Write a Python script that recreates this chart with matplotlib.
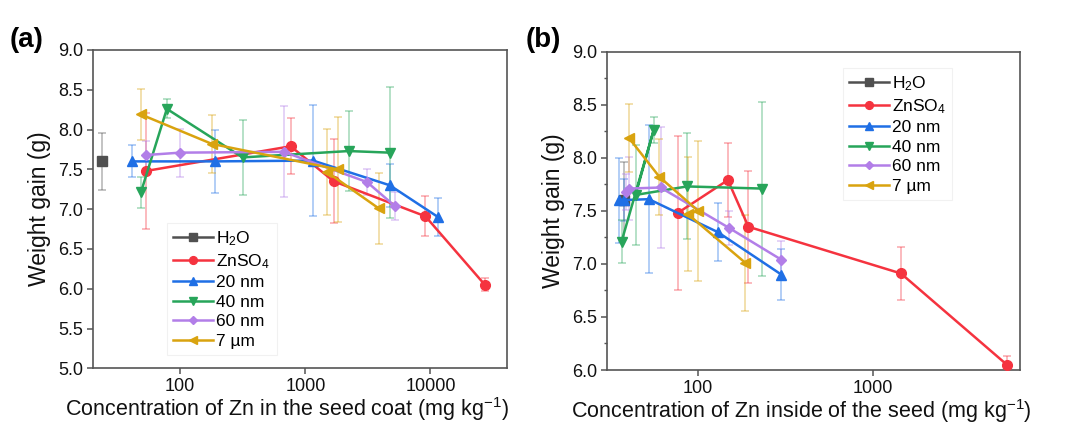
import matplotlib
matplotlib.use('Agg')
import matplotlib.pyplot as plt
from matplotlib.ticker import FixedLocator, NullLocator, MultipleLocator, FixedFormatter

plt.rcParams['font.family'] = ['Liberation Sans', 'DejaVu Sans']
plt.rcParams['mathtext.fontset'] = 'custom'
plt.rcParams['mathtext.rm'] = 'Liberation Sans'
plt.rcParams['mathtext.it'] = 'Liberation Sans'

# series: x in seed coat (a), x inside the seed (b), weight gain, error
names = ['H$_2$O', 'ZnSO$_4$', '20 nm', '40 nm', '60 nm', '7 µm']
colors = ['#505050', '#f5333f', '#1f6fe5', '#27a55a', '#b27ee8', '#d9a30f']
markers = ['s', 'o', '^', 'v', 'D', '<']

h2o_coat = [23.5]
h2o_in = [37.5]
h2o_y = [7.60]
h2o_e = [0.36]

znso4_coat = [53.5, 763, 1685, 9120, 27200]
znso4_in = [76.5, 148, 194, 1446, 5835]
znso4_y = [7.48, 7.79, 7.35, 6.91, 6.05]
znso4_e = [0.73, 0.35, 0.53, 0.25, 0.08]

nm20_coat = [41.5, 188, 1153, 4730, 11520]
nm20_in = [37.5, 35.5, 52.3, 129.5, 299]
nm20_y = [7.60, 7.60, 7.61, 7.30, 6.90]
nm20_e = [0.20, 0.40, 0.70, 0.27, 0.24]

nm40_coat = [48.5, 78.2, 315, 2220, 4730]
nm40_in = [36.5, 55.7, 43.9, 86.5, 232]
nm40_y = [7.21, 8.26, 7.65, 7.73, 7.71]
nm40_e = [0.20, 0.12, 0.47, 0.50, 0.82]

nm60_coat = [53.5, 100, 671, 3115, 5185]
nm60_in = [38.5, 40.5, 61, 150, 299]
nm60_y = [7.68, 7.71, 7.72, 7.34, 7.04]
nm60_e = [0.17, 0.30, 0.57, 0.16, 0.18]

um7_coat = [48.5, 179, 1815, 1480, 3860]
um7_in = [40.1, 60.1, 100, 87.2, 186.4]
um7_y = [8.19, 7.82, 7.50, 7.47, 7.01]
um7_e = [0.32, 0.36, 0.66, 0.54, 0.45]

x_coat = [h2o_coat, znso4_coat, nm20_coat, nm40_coat, nm60_coat, um7_coat]
x_in = [h2o_in, znso4_in, nm20_in, nm40_in, nm60_in, um7_in]
ys = [h2o_y, znso4_y, nm20_y, nm40_y, nm60_y, um7_y]
errs = [h2o_e, znso4_e, nm20_e, nm40_e, nm60_e, um7_e]

fig = plt.figure(figsize=(10.81, 4.25), dpi=100)
ax_a = fig.add_axes([0.0858, 0.1334, 0.3833, 0.749])
ax_b = fig.add_axes([0.5612, 0.1294, 0.3825, 0.749])


def draw(ax, xs):
    lines = []
    for i in range(len(names)):
        ax.errorbar(xs[i], ys[i], yerr=errs[i], fmt='none', ecolor=colors[i],
                    alpha=0.4, elinewidth=1.2, capsize=3, capthick=1.2, zorder=1)
    for i in range(len(names)):
        ms = 5.5 if markers[i] == 'D' else 7
        ln, = ax.plot(xs[i], ys[i], color=colors[i], marker=markers[i], ms=ms,
                      lw=1.8, label=names[i], zorder=2 + i)
        lines.append(ln)
    ax.set_xscale('log')
    for s in ax.spines.values():
        s.set_color('#555555')
        s.set_linewidth(1.2)
    ax.tick_params(which='both', direction='out', colors='#555555', labelcolor='#111111',
                   labelsize=13)
    ax.tick_params(which='major', length=4, width=1.1, pad=3)
    ax.tick_params(which='minor', length=2.5, width=1.0)
    ax.xaxis.set_minor_locator(NullLocator())
    ax.set_ylabel('Weight gain (g)', fontsize=16.5, color='#111111', labelpad=5)
    return lines


lines_a = draw(ax_a, x_coat)
ax_a.set_xlim(20, 41000)
ax_a.set_ylim(5.0, 9.0)
ax_a.xaxis.set_major_locator(FixedLocator([100, 1000, 10000]))
ax_a.xaxis.set_major_formatter(FixedFormatter(['100', '1000', '10000']))
ax_a.set_yticks([5.0, 5.5, 6.0, 6.5, 7.0, 7.5, 8.0, 8.5, 9.0])
ax_a.set_yticklabels(['5.0', '5.5', '6.0', '6.5', '7.0', '7.5', '8.0', '8.5', '9.0'])
ax_a.yaxis.set_minor_locator(NullLocator())
ax_a.set_xlabel('Concentration of Zn in the seed coat (mg kg$^{-1}$)', fontsize=15.5,
                color='#111111')
ax_a.xaxis.set_label_coords(0.47, -0.084)

lines_b = draw(ax_b, x_in)
ax_b.set_xlim(30, 6950)
ax_b.set_ylim(6.0, 9.0)
ax_b.xaxis.set_major_locator(FixedLocator([100, 1000]))
ax_b.xaxis.set_major_formatter(FixedFormatter(['100', '1000']))
ax_b.set_yticks([6.0, 6.5, 7.0, 7.5, 8.0, 8.5, 9.0])
ax_b.set_yticklabels(['6.0', '6.5', '7.0', '7.5', '8.0', '8.5', '9.0'])
ax_b.yaxis.set_minor_locator(MultipleLocator(0.25))
ax_b.set_xlabel('Concentration of Zn inside of the seed (mg kg$^{-1}$)', fontsize=15.5,
                color='#111111')
ax_b.xaxis.set_label_coords(0.47, -0.084)

for ax, lines, anchor in [(ax_a, lines_a, (0.1545, 0.4753)), (ax_b, lines_b, (0.7798, 0.84))]:
    leg = ax.legend(handles=lines, loc='upper left', bbox_to_anchor=anchor,
                    bbox_transform=fig.transFigure, borderaxespad=0, fontsize=12.5,
                    handlelength=2.3, handletextpad=0.2, labelspacing=0.25,
                    borderpad=0.35, frameon=True, fancybox=False, markerscale=0.8)
    leg.get_frame().set_edgecolor('#eeeeee')
    leg.get_frame().set_linewidth(0.8)

fig.text(10 / 1081, 1 - 47 / 425, '(a)', fontsize=20, fontweight='bold')
fig.text(526 / 1081, 1 - 47 / 425, '(b)', fontsize=20, fontweight='bold')

fig.savefig('out.png', dpi=100)
